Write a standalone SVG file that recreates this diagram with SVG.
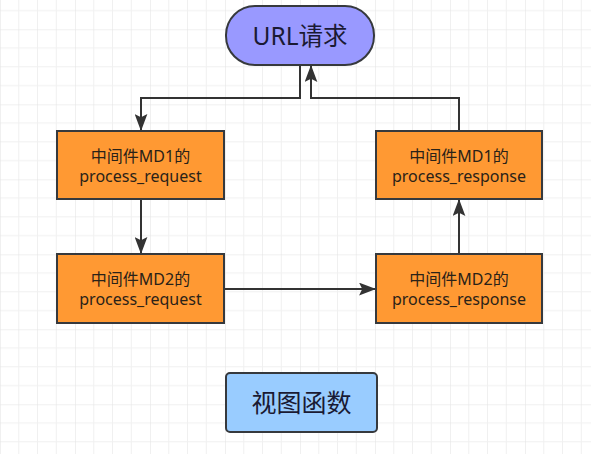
<svg xmlns="http://www.w3.org/2000/svg" width="591" height="454" viewBox="0 0 591 454">
<defs>
<pattern id="grid" patternUnits="userSpaceOnUse" x="0" y="29.3" width="75" height="75">
<path d="M18.75 0V75M37.5 0V75M56.25 0V75M0 18.75H75M0 37.5H75M0 56.25H75" stroke="#f0f0f0" stroke-width="1" fill="none"/>
<path d="M0 0V75M0 0H75" stroke="#e2e2e2" stroke-width="1" fill="none"/>
</pattern>
<marker id="arr" viewBox="0 0 16 12" refX="15" refY="6" markerWidth="17" markerHeight="13" markerUnits="userSpaceOnUse" orient="auto">
<path d="M0 0L16 6L0 12L3 6Z" fill="#333"/>
</marker>
<style>
.box{stroke:#36393d;stroke-width:2}
.md{fill:#ff9933}
.t{font-family:"Noto Sans","Noto Sans CJK SC",sans-serif;font-size:16px;fill:#2a2218;text-anchor:middle}
.big{font-family:"Noto Sans","Noto Sans CJK SC",sans-serif;font-size:24.5px;fill:#1a1a33;text-anchor:middle}
.c{fill:none;stroke:#333;stroke-width:2}
</style>
</defs>
<rect width="591" height="454" fill="#fff"/>
<rect width="591" height="454" fill="url(#grid)"/>
<g id="connectors">
<path class="c" d="M300 65V98H141V130" marker-end="url(#arr)"/>
<path class="c" d="M459 131V98H311V66" marker-end="url(#arr)"/>
<path class="c" d="M141 199V253" marker-end="url(#arr)"/>
<path class="c" d="M224 289H375" marker-end="url(#arr)"/>
<path class="c" d="M459 254V200" marker-end="url(#arr)"/>
</g>
<g id="url">
<rect class="box" x="226" y="6" width="148" height="59" rx="29" fill="#9999ff"/>
<text class="big" x="300" y="45">URL请求</text>
</g>
<g id="md1req">
<rect class="box md" x="57" y="131" width="167" height="68"/>
<text class="t" x="140.5" y="162">中间件MD1的</text>
<text class="t" x="140.5" y="182">process_request</text>
</g>
<g id="md2req">
<rect class="box md" x="57" y="254" width="167" height="69"/>
<text class="t" x="140.5" y="285">中间件MD2的</text>
<text class="t" x="140.5" y="305">process_request</text>
</g>
<g id="md1resp">
<rect class="box md" x="376" y="131" width="166" height="68"/>
<text class="t" x="459" y="162">中间件MD1的</text>
<text class="t" x="459" y="182">process_response</text>
</g>
<g id="md2resp">
<rect class="box md" x="376" y="254" width="166" height="69"/>
<text class="t" x="459" y="285">中间件MD2的</text>
<text class="t" x="459" y="305">process_response</text>
</g>
<g id="view">
<rect class="box" x="226" y="373" width="151" height="59" rx="4" fill="#99ccff"/>
<text class="big" x="301.5" y="412" style="font-size:25px">视图函数</text>
</g>
</svg>
